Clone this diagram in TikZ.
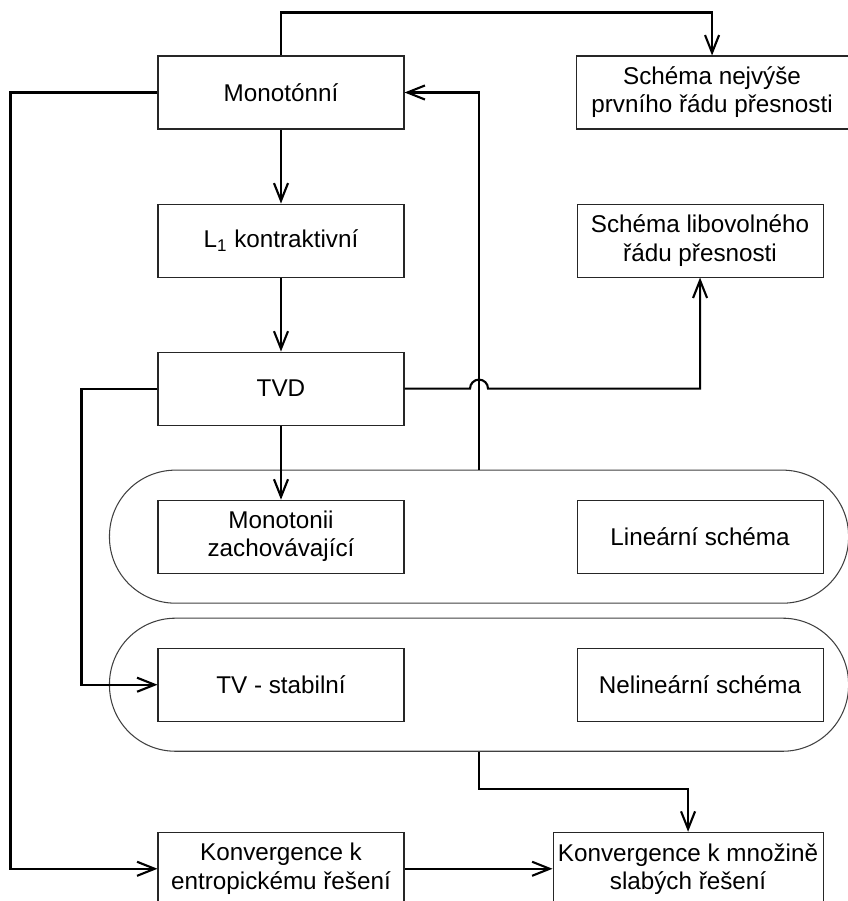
\documentclass[tikz,border=0pt]{standalone}
\usepackage{fontspec}
\setmainfont{Liberation Sans}
\usepackage{tikz}
\usetikzlibrary{arrows.meta,positioning,calc,fit}

\begin{document}
\begin{tikzpicture}[
    font=\fontsize{13.8}{16}\selectfont,
    bx/.style={draw=black!85,line width=0.6pt,minimum width=4.92cm,minimum height=1.46cm,inner sep=2pt,align=center},
    band/.style={draw=black!75,line width=0.6pt,rounded corners=1.32cm,inner xsep=0.5cm,inner ysep=0.59cm},
    ar/.style={-{Straight Barb[length=10pt,width=8pt]},line width=1.2pt}
]
\useasboundingbox (-5.62,1.85) rectangle (11.32,-16.17);
% left column
\node[bx] (mono) at (0,0) {Monotónní};
\node[bx,below=1.48cm of mono] (lone) {L\textsubscript{1} kontraktivní};
\node[bx,below=1.48cm of lone] (tvd) {TVD};
\node[bx,below=1.48cm of tvd] (monz) {Monotonii\\zachovávající};
\node[bx,below=1.48cm of monz] (tvs) {TV - stabilní};
\node[bx,below=2.2cm of tvs] (entrop) {Konvergence k\\entropickému řešení};
% right column
\node[bx,minimum width=5.44cm,right=3.42cm of mono] (nejv) {Schéma nejvýše\\prvního řádu přesnosti};
\node[bx,right=3.44cm of lone] (libov) {Schéma libovolného\\řádu přesnosti};
\node[bx,right=3.44cm of monz] (lin) {Lineární schéma};
\node[bx,right=3.44cm of tvs] (nonlin) {Nelineární schéma};
\node[bx,minimum width=5.4cm,right=2.96cm of entrop] (mnoz) {Konvergence k množině\\slabých řešení};
% bands
\node[band,fit={($(monz.west)+(-0.46,0)$) (lin.east) (monz.north) (monz.south)}] (linband) {};
\node[band,fit={($(tvs.west)+(-0.46,0)$) (nonlin.east) (tvs.north) (tvs.south)}] (nlband) {};
% connectors
\draw[ar] (mono.north) -- ++(0,0.86) -| (nejv.north);
\draw[ar] (mono.west) -- ++(-2.94,0) |- (entrop.west);
\draw[ar] (mono) -- (lone);
\draw[ar] (lone) -- (tvd);
\draw[ar] (tvd) -- (monz);
\draw[ar] (tvd.west) -- ++(-1.52,0) |- (tvs.west);
\draw[ar] (linband.north) |- (mono.east);
\draw[ar] (tvd.east) -- ($(tvd.east -| linband.north)+(-0.18,0)$) arc[start angle=180,end angle=0,radius=0.18cm] -| (libov.south);
\draw[ar] (nlband.south) -- ++(0,-0.74) -| (mnoz.north);
\draw[ar] (entrop) -- (mnoz);
\end{tikzpicture}
\end{document}
